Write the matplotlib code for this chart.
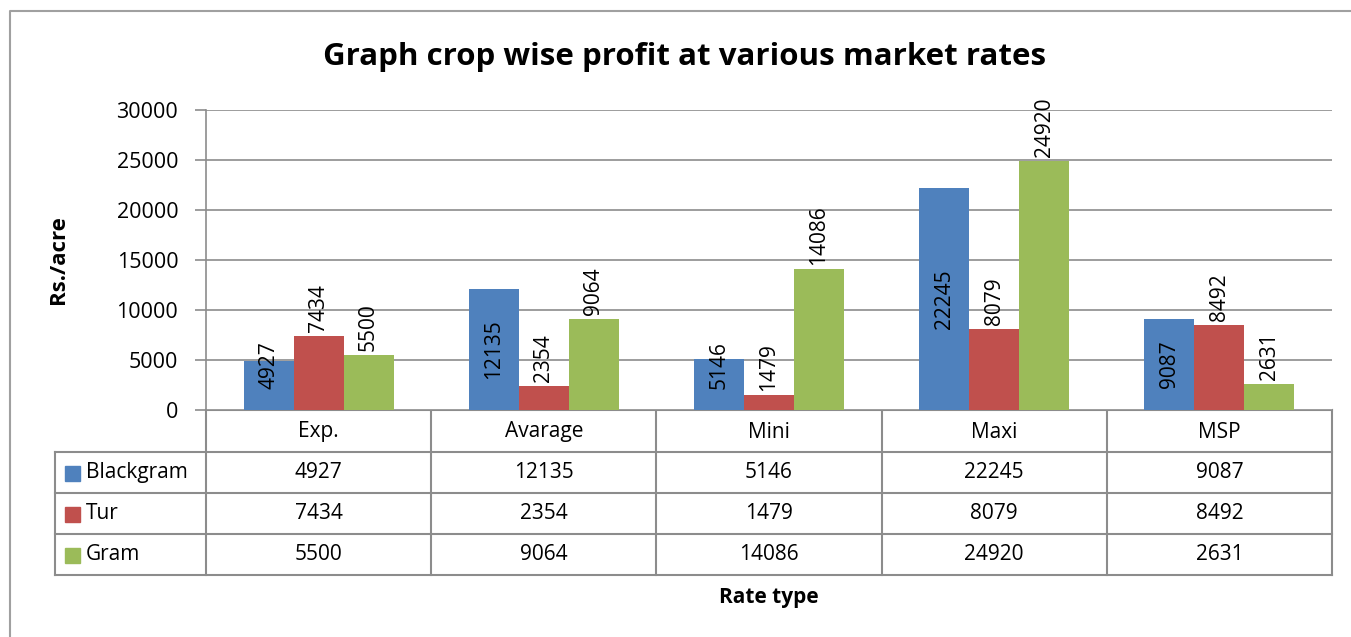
import numpy as np
import matplotlib.pyplot as plt
from matplotlib.patches import Rectangle

plt.rcParams['font.family'] = ['Open Sans', 'DejaVu Sans']

categories = ["Exp.", "Avarage", "Mini", "Maxi", "MSP"]
series_names = ["Blackgram", "Tur", "Gram"]
blackgram = [4927, 12135, 5146, 22245, 9087]
tur = [7434, 2354, 1479, 8079, 8492]
gram = [5500, 9064, 14086, 24920, 2631]
colors = ["#4f81bd", "#c0504d", "#9bbb59"]
yticks = [0, 5000, 10000, 15000, 20000, 25000, 30000]

W, H = 1351, 637
fig = plt.figure(figsize=(W / 100, H / 100), dpi=100)
grid_c = "#8c8c8c"

# outer chart frame
frame = fig.add_axes([0, 0, 1, 1])
frame.set_xlim(0, W)
frame.set_ylim(H, 0)
frame.axis("off")
frame.plot([10, 10, 1351], [637, 11, 11], color="#a0a0a0", lw=1.5)

# plot area in pixels
px0, px1, py0, py1 = 206, 1332, 110, 410
ax = fig.add_axes([px0 / W, 1 - py1 / H, (px1 - px0) / W, (py1 - py0) / H])
ax.set_xlim(-0.5, len(categories) - 0.5)
ax.set_ylim(0, 30000)
ax.set_yticks(yticks)
ax.set_yticklabels([str(t) for t in yticks], fontsize=15.5)
ax.set_xticks([])
ax.grid(axis="y", color=grid_c, lw=1.2)
ax.set_axisbelow(True)
for s in ["top", "right", "bottom"]:
    ax.spines[s].set_visible(False)
ax.spines["left"].set_color(grid_c)
ax.spines["left"].set_linewidth(1.2)
ax.tick_params(axis="y", length=8, color=grid_c, width=1.2, pad=12)
ax.set_ylabel("Rs./acre", fontsize=16, fontweight="bold", labelpad=34)

x = np.arange(len(categories))
bw = 0.222
data = [blackgram, tur, gram]
for i, vals in enumerate(data):
    xs = x + (i - 1) * bw
    ax.bar(xs, vals, width=bw, color=colors[i], zorder=2)
    for xv, v in zip(xs, vals):
        if i == 0:
            ax.text(xv, max(v / 2, 4500), str(v), rotation=90, ha="center",
                    va="center", fontsize=15, zorder=3)
        else:
            ax.text(xv, v + 400, str(v), rotation=90, ha="center",
                    va="bottom", fontsize=15, zorder=3)

fig.text(685 / W, 1 - 57 / H,
         "Graph crop wise profit at various market rates",
         ha="center", va="center", fontsize=22.5, fontweight="bold")

# data table below the plot
tb = frame
col_w = (px1 - px0) / len(categories)
row_y = [410, 452, 493, 534, 575]
tl = 55
tb.plot([px0, px1], [row_y[0], row_y[0]], color=grid_c, lw=1.5)
for yv in row_y[1:]:
    tb.plot([tl, px1], [yv, yv], color=grid_c, lw=1.5)
tb.plot([tl, tl], [row_y[1], row_y[-1]], color=grid_c, lw=1.5)
for j in range(len(categories) + 1):
    xv = px0 + j * col_w
    tb.plot([xv, xv], [row_y[0], row_y[-1]], color=grid_c, lw=1.5)
for j, c in enumerate(categories):
    tb.text(px0 + (j + 0.5) * col_w, (row_y[0] + row_y[1]) / 2 + 1, c,
            ha="center", va="center", fontsize=15)
for i, name in enumerate(series_names):
    yc = (row_y[i + 1] + row_y[i + 2]) / 2
    tb.add_patch(Rectangle((65, yc - 7), 15, 15, color=colors[i]))
    tb.text(86, yc, name, ha="left", va="center", fontsize=15)
    for j, v in enumerate(data[i]):
        tb.text(px0 + (j + 0.5) * col_w, yc, str(v), ha="center",
                va="center", fontsize=15)

fig.text(0.5 * (px0 + px1) / W, 1 - 597 / H, "Rate type", ha="center",
         va="center", fontsize=15, fontweight="bold")

fig.savefig("out.png", dpi=100)
